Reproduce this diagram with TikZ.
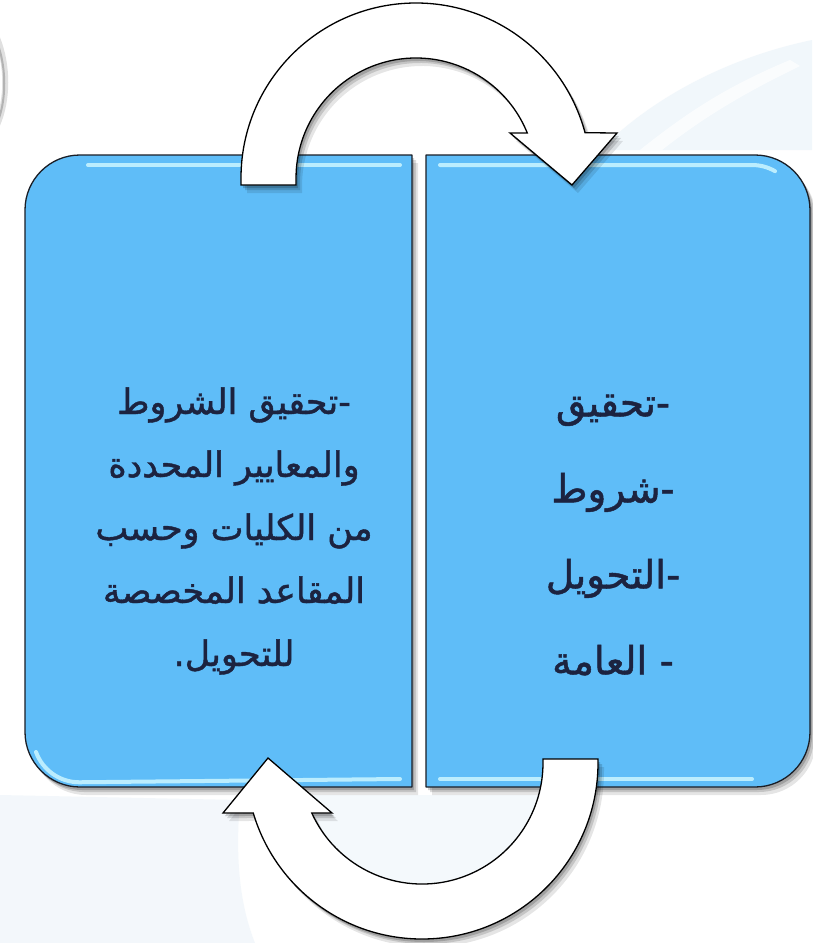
\documentclass[tikz,border=0pt]{standalone}
\usepackage{fontspec}
\usetikzlibrary{shadows}
\TeXXeTstate=1
\newfontfamily\arabicfont[Script=Arabic,FakeBold=1.2]{DejaVu Sans}
\definecolor{boxblue}{HTML}{5FBDF8}
\definecolor{boxedge}{HTML}{1A1E26}
\definecolor{gloss}{HTML}{C6F3FF}
\definecolor{txt}{HTML}{1C2340}
\definecolor{bgtint}{HTML}{EEF5FA}
\tikzset{
  softshadow/.style={
    preaction={fill=black,opacity=0.10,transform canvas={xshift=6pt,yshift=-8pt}},
    preaction={fill=black,opacity=0.14,transform canvas={xshift=4pt,yshift=-5pt}},
    preaction={fill=black,opacity=0.18,transform canvas={xshift=2pt,yshift=-3pt}}},
  panel/.style={softshadow,fill=boxblue,draw=boxedge,line width=1.3pt,line join=round},
  glossline/.style={draw=gloss,line width=4pt,line cap=round,opacity=0.9},
  bigarrow/.style={softshadow,fill=white,draw=black,line width=1.3pt,line join=miter},
  label/.style={text=txt,font=\arabicfont\fontsize{35}{63}\selectfont,align=center,inner sep=0pt},
  labelwide/.style={label,font=\arabicfont\fontsize{39}{86}\selectfont}
}
\begin{document}
\begin{tikzpicture}[x=1pt,y=-1pt]
\useasboundingbox (0,0) rectangle (812,943);
\fill[white] (0,0) rectangle (812,943);
% faint background tints
\fill[bgtint,opacity=0.8] (600,150) .. controls (660,90) and (740,55) .. (812,40) -- (812,150) -- cycle;
\fill[white,opacity=0.7] (640,150) .. controls (690,110) and (730,85) .. (790,60) -- (800,66) .. controls (740,95) and (700,120) .. (662,150) -- cycle;
\fill[bgtint,opacity=0.7] (0,795) -- (240,800) .. controls (235,860) and (240,905) .. (255,943) -- (0,943) -- cycle;
\fill[bgtint,opacity=0.6] (290,795) -- (545,795) .. controls (530,850) and (480,880) .. (420,885) .. controls (360,880) and (310,850) .. (290,795) -- cycle;
% blurred arc at the top-left
\draw[black,opacity=0.12,line width=6pt] (-3,38) .. controls (8,65) and (8,100) .. (-3,125);
\draw[black,opacity=0.2,line width=2pt] (-1,48) .. controls (6,70) and (6,98) .. (-1,118);
% panels
\path[panel] (412,155) -- (80,155) arc[start angle=90,end angle=180,radius=55pt]
  -- (25,732) arc[start angle=180,end angle=270,radius=55pt] -- (412,787) -- cycle;
\path[panel] (426,155) -- (755,155) arc[start angle=90,end angle=0,radius=55pt]
  -- (810,732) arc[start angle=0,end angle=-90,radius=55pt] -- (426,787) -- cycle;
% gloss highlights
\draw[glossline] (88,165) -- (400,165);
\draw[glossline] (440,165) -- (752,165) arc[start angle=90,end angle=60,radius=46pt];
\draw[glossline] (36,752) arc[start angle=200,end angle=270,radius=46pt] -- (400,779);
\draw[glossline] (440,779) -- (752,779);
% texts
\node[label] (lefttext) at (234,531) {%
  \beginR -تحقيق الشروط\endR\\
  \beginR والمعايير المحددة\endR\\
  \beginR من الكليات وحسب\endR\\
  \beginR المقاعد المخصصة\endR\\
  \beginR للتحويل.\endR};
\node[labelwide] (righttext) at (613,535) {%
  \beginR -تحقيق\endR\\
  \beginR -شروط\endR\\
  \beginR -التحويل\endR\\
  \beginR - العامة\endR};
% top arrow
\path[bigarrow] (241,185) -- (241,178) arc[start angle=180,end angle=15,radius=175pt]
  -- (617,133) -- (572,185) -- (510,133) -- (527.3,133.05)
  arc[start angle=22,end angle=180,radius=120pt] -- (296,185) -- cycle;
% bottom arrow
\path[bigarrow] (598,759) -- (598,763) arc[start angle=0,end angle=-163.5,radius=176pt]
  -- (223,813) -- (268,758) -- (332,813) -- (311.8,813)
  arc[start angle=-155.6,end angle=0,radius=121pt] -- (543,759) -- cycle;
\end{tikzpicture}
\end{document}
